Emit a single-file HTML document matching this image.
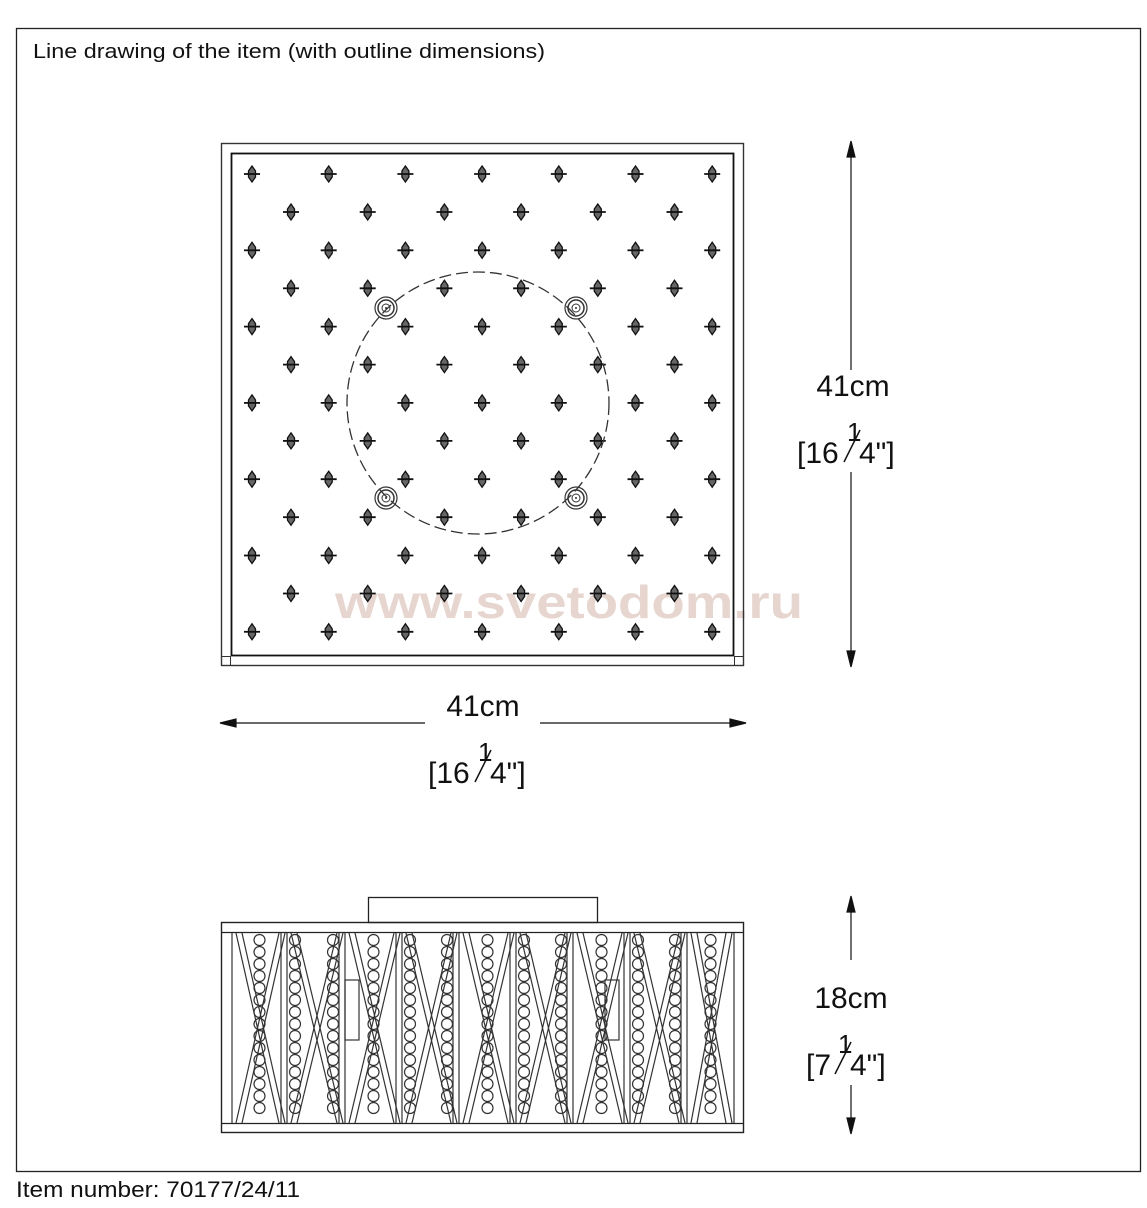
<!DOCTYPE html><html><head><style>
body{margin:0;background:#fff;width:1147px;height:1208px;overflow:hidden;font-family:"Liberation Sans",sans-serif}
svg{position:absolute;left:0;top:0}
</style></head><body>
<svg id="s" width="1147" height="1208" xmlns="http://www.w3.org/2000/svg">
<defs>
<g id="cr"><path d="M0,-8 L3.5,-3 L3.5,3 L0,8 L-3.5,3 L-3.5,-3 Z" fill="#666" stroke="#111" stroke-width="1.3"/><line x1="-8" y1="0" x2="8" y2="0" stroke="#111" stroke-width="1.8"/></g>
<g id="mt"><circle r="11" fill="none" stroke="#333" stroke-width="1.2"/><circle r="8" fill="none" stroke="#333" stroke-width="1.5"/><circle r="4" fill="none" stroke="#333" stroke-width="1"/><circle r="1" fill="#333"/></g>
</defs>
<rect x="16.5" y="28.5" width="1124" height="1143" fill="none" stroke="#222" stroke-width="1.3"/>
<text x="33" y="58" font-size="20" textLength="512" lengthAdjust="spacingAndGlyphs" font-family="Liberation Sans" fill="#111">Line drawing of the item (with outline dimensions)</text>
<text x="16" y="1197" font-size="22" textLength="284" lengthAdjust="spacingAndGlyphs" font-family="Liberation Sans" fill="#111">Item number: 70177/24/11</text>
<text x="335" y="618" font-size="46" font-weight="bold" textLength="468" lengthAdjust="spacingAndGlyphs" fill="#e6d6cf" font-family="Liberation Sans">www.svetodom.ru</text>
<rect x="221.5" y="143.5" width="522" height="522" fill="none" stroke="#333" stroke-width="1.4"/>
<rect x="231.5" y="153.5" width="502" height="502" fill="none" stroke="#111" stroke-width="1.8"/>
<rect x="221.5" y="656.5" width="9" height="9" fill="none" stroke="#333"/>
<rect x="734.5" y="656.5" width="9" height="9" fill="none" stroke="#333"/>
<g id="crys"></g>
<circle cx="478" cy="403" r="131" fill="none" stroke="#333" stroke-width="1.3" stroke-dasharray="12,5"/>
<use href="#mt" x="386" y="308"/><use href="#mt" x="576" y="308"/><use href="#mt" x="386" y="498"/><use href="#mt" x="576" y="498"/>
<g stroke="#111" stroke-width="1.2" fill="#111">
<line x1="851" y1="150" x2="851" y2="370"/><line x1="851" y1="472" x2="851" y2="660"/>
<path d="M851,141 l-4,16 h8z"/><path d="M851,667 l-4,-16 h8z"/>
<line x1="228" y1="723" x2="425" y2="723"/><line x1="540" y1="723" x2="738" y2="723"/>
<path d="M220,723 l16,-4 v8z"/><path d="M746,723 l-16,-4 v8z"/>
<line x1="851" y1="904" x2="851" y2="960"/><line x1="851" y1="1085" x2="851" y2="1126"/>
<path d="M851,896 l-4,16 h8z"/><path d="M851,1134 l-4,-16 h8z"/>
</g>
<g font-family="Liberation Sans" fill="#111" font-size="30">
<text x="853" y="396" text-anchor="middle">41cm</text>
<text x="797" y="463">[16</text><text x="847" y="441" font-size="26">1</text><line x1="844" y1="462" x2="860" y2="430" stroke="#111" stroke-width="1.5"/><text x="859" y="463">4"]</text>
<text x="483" y="716" text-anchor="middle">41cm</text>
<text x="428" y="783">[16</text><text x="478" y="761" font-size="26">1</text><line x1="475" y1="782" x2="491" y2="750" stroke="#111" stroke-width="1.5"/><text x="490" y="783">4"]</text>
<text x="851" y="1008" text-anchor="middle">18cm</text>
<text x="806" y="1075">[7</text><text x="838" y="1053" font-size="26">1</text><line x1="835" y1="1074" x2="851" y2="1042" stroke="#111" stroke-width="1.5"/><text x="850" y="1075">4"]</text>
</g>
<rect x="368.5" y="897.5" width="229" height="25" fill="none" stroke="#222" stroke-width="1.3"/>
<g id="side" stroke="#333" fill="none" stroke-width="1.2"></g>
<rect x="221.5" y="922.5" width="522" height="210" fill="none" stroke="#222" stroke-width="1.4"/>
<line x1="221" y1="932.5" x2="744" y2="932.5" stroke="#222" stroke-width="1.2"/>
<line x1="221" y1="1123.5" x2="744" y2="1123.5" stroke="#222" stroke-width="1.2"/>
</svg>
<script>
var ns="http://www.w3.org/2000/svg";
var g=document.getElementById("crys");
function el(p,t,a){var e=document.createElementNS(ns,t);for(var k in a)e.setAttribute(k,a[k]);p.appendChild(e);return e;}
for(var r=0;r<7;r++)for(var c=0;c<7;c++){var u=el(g,"use",{x:252+c*76.7,y:174+r*76.3});u.setAttribute("href","#cr");}
for(var r=0;r<6;r++)for(var c=0;c<6;c++){var u=el(g,"use",{x:291+c*76.7,y:212+r*76.3});u.setAttribute("href","#cr");}
var s=document.getElementById("side");
var divs=[232,287,345,402,459,516,573,630,687,734];
for(var i=0;i<divs.length;i++){var x=divs[i];el(s,"line",{x1:x,y1:933,x2:x,y2:1123});if(i>0&&i<divs.length-1)el(s,"line",{x1:x-6,y1:933,x2:x-6,y2:1123});}
for(var i=0;i<divs.length-1;i++){var a=divs[i]+4,b=divs[i+1]-8;
el(s,"line",{x1:a,y1:933,x2:b,y2:1123});el(s,"line",{x1:a+6,y1:933,x2:b+6,y2:1123});
el(s,"line",{x1:b,y1:933,x2:a,y2:1123});el(s,"line",{x1:b+6,y1:933,x2:a+6,y2:1123});
var cx=(divs[i]+divs[i+1])/2;
var chains=(i%2==0)?[cx]:[divs[i]+8,divs[i+1]-12];
chains.forEach(function(x){for(var y=940;y<1120;y+=12){el(s,"circle",{cx:x,cy:y,r:5.5});}});
}
el(s,"rect",{x:345,y:980,width:14,height:60});el(s,"rect",{x:605,y:980,width:14,height:60});
</script>
</body></html>
